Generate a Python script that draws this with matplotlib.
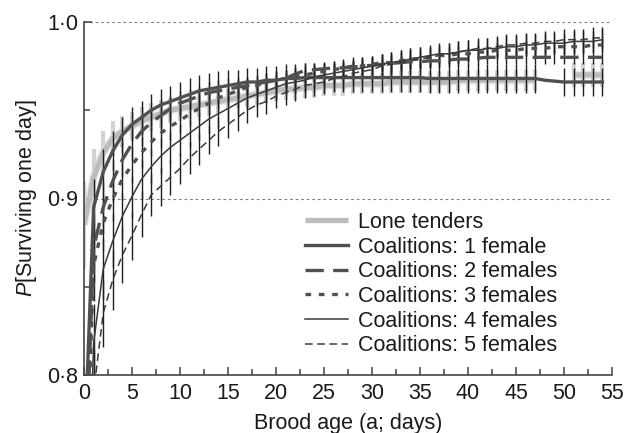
import numpy as np
import matplotlib
matplotlib.use("Agg")
import matplotlib.pyplot as plt
from matplotlib.ticker import MultipleLocator, FixedLocator, FuncFormatter

plt.rcParams['font.family'] = ['Liberation Sans', 'DejaVu Sans']
plt.rcParams['mathtext.fontset'] = 'custom'
plt.rcParams['mathtext.it'] = 'Liberation Sans:italic'
plt.rcParams['mathtext.rm'] = 'Liberation Sans'

nan = np.nan
days = list(range(0, 55))

lone = [0.885, 0.912, 0.926, 0.934, 0.938, 0.941, 0.944, 0.946, 0.948, 0.950,
        0.951, 0.952, 0.953, 0.954, 0.955, 0.956, 0.957, 0.958, 0.959, 0.960,
        0.961, 0.962, 0.962, 0.963, 0.963, 0.964, 0.964, 0.964, 0.965, 0.965,
        0.965, 0.965, 0.966, 0.966, 0.966, 0.966, 0.966, 0.966, 0.966, 0.967,
        0.967, 0.967, 0.967, 0.967, 0.967, 0.967, 0.967, 0.967, nan, nan,
        nan, 0.970, 0.970, 0.970, 0.970]
lone_err = [0.025, 0.016, 0.012, 0.010, 0.009, 0.008, 0.008, 0.008, 0.008, 0.007,
            0.007, 0.007, 0.007, 0.007, 0.007, 0.006, 0.006, 0.006, 0.006, 0.006,
            0.006, 0.006, 0.006, 0.006, 0.006, 0.006, 0.006, 0.006, 0.006, 0.006,
            0.006, 0.006, 0.006, 0.006, 0.006, 0.006, 0.006, 0.006, 0.006, 0.006,
            0.006, 0.006, 0.006, 0.006, 0.006, 0.006, 0.006, 0.006, nan, nan,
            nan, 0.007, 0.007, 0.007, 0.007]

f1 = [0.750, 0.895, 0.915, 0.927, 0.936, 0.942, 0.946, 0.950, 0.953, 0.955,
      0.957, 0.959, 0.961, 0.962, 0.963, 0.964, 0.965, 0.966, 0.966, 0.967,
      0.967, 0.968, 0.968, 0.9685, 0.9685, 0.9685, 0.9685, 0.9685, 0.9685, 0.9685,
      0.9685, 0.9685, 0.9685, 0.9685, 0.9685, 0.9685, 0.968, 0.968, 0.968, 0.968,
      0.968, 0.968, 0.968, 0.968, 0.968, 0.968, 0.968, 0.968, 0.967, 0.9665,
      0.966, 0.966, 0.966, 0.966, 0.966]
f1_err = [0.030, 0.016, 0.013, 0.011, 0.010, 0.010, 0.009, 0.009, 0.009, 0.009,
          0.009, 0.009, 0.009, 0.009, 0.009, 0.009, 0.008, 0.008, 0.008, 0.008,
          0.008, 0.008, 0.008, 0.008, 0.008, 0.008, 0.008, 0.008, 0.008, 0.008,
          0.008, 0.008, 0.008, 0.008, 0.008, 0.008, 0.008, 0.008, 0.008, 0.008,
          0.008, 0.008, 0.008, 0.008, 0.008, 0.008, 0.008, 0.008, nan, nan,
          0.008, 0.008, 0.008, 0.008, 0.008]

f2 = [0.720, 0.872, 0.895, 0.910, 0.922, 0.931, 0.938, 0.943, 0.947, 0.951,
      0.954, 0.956, 0.958, 0.960, 0.961, 0.962, 0.963, 0.964, 0.965, 0.966,
      0.967, 0.968, 0.9705, 0.9725, 0.973, 0.9735, 0.974, 0.974, 0.9745, 0.975,
      0.9755, 0.976, 0.9765, 0.977, 0.9775, 0.9775, 0.978, 0.978, 0.9785, 0.979,
      0.979, 0.9795, 0.980, 0.980, 0.980, 0.980, 0.980, 0.980, 0.980, 0.980,
      0.980, 0.980, 0.980, 0.980, 0.980]
f2_err = [0.030, 0.020, 0.015, 0.012, 0.010, 0.009, 0.008, 0.008, 0.008, 0.007,
          0.007, 0.006, 0.006, 0.006, 0.006, 0.006, 0.006, 0.005, 0.005, 0.005,
          0.005, 0.005, 0.004, 0.004, 0.004, 0.004, 0.004, 0.004, 0.004, 0.004,
          0.004, 0.004, 0.004, 0.004, 0.004, 0.004, 0.004, 0.004, 0.004, 0.004,
          0.004, 0.004, 0.004, 0.004, 0.004, 0.004, 0.004, 0.004, 0.004, 0.004,
          0.004, 0.004, 0.004, 0.004, 0.004]

f3 = [0.700, 0.862, 0.886, 0.900, 0.911, 0.919, 0.926, 0.932, 0.937, 0.941,
      0.944, 0.948, 0.951, 0.954, 0.957, 0.959, 0.961, 0.963, 0.964, 0.966,
      0.967, 0.968, 0.969, 0.970, 0.971, 0.972, 0.973, 0.974, 0.975, 0.975,
      0.976, 0.977, 0.977, 0.978, 0.979, 0.979, 0.980, 0.981, 0.981, 0.982,
      0.982, 0.983, 0.983, 0.984, 0.984, 0.984, 0.985, 0.985, 0.985, 0.986,
      0.986, 0.986, 0.986, 0.987, 0.987]
f3_err = [0.030, 0.020, 0.016, 0.013, 0.011, 0.010, 0.009, 0.008, 0.008, 0.008,
          0.007, 0.007, 0.007, 0.006, 0.006, 0.006, 0.006, 0.005, 0.005, 0.005,
          0.005, 0.005, 0.005, 0.005, 0.005, 0.005, 0.005, 0.005, 0.005, 0.005,
          0.005, 0.005, 0.005, 0.005, 0.005, 0.005, 0.005, 0.005, 0.005, 0.005,
          0.004, 0.004, 0.004, 0.004, 0.004, 0.004, 0.004, 0.004, 0.004, 0.004,
          0.004, 0.004, 0.004, 0.004, 0.004]

f4 = [0.650, 0.818, 0.860, 0.876, 0.890, 0.901, 0.911, 0.918, 0.924, 0.929,
      0.933, 0.937, 0.941, 0.945, 0.948, 0.951, 0.954, 0.957, 0.959, 0.961,
      0.963, 0.965, 0.966, 0.967, 0.969, 0.970, 0.971, 0.972, 0.973, 0.974,
      0.975, 0.976, 0.977, 0.978, 0.979, 0.980, 0.981, 0.982, 0.982, 0.983,
      0.984, 0.984, 0.985, 0.985, 0.986, 0.986, 0.987, 0.987, 0.988, 0.988,
      0.988, 0.989, 0.989, 0.989, 0.990]
f4_err = [0.030, 0.022, 0.017, 0.015, 0.013, 0.012, 0.011, 0.010, 0.010, 0.009,
          0.009, 0.008, 0.008, 0.008, 0.008, 0.007, 0.007, 0.007, 0.007, 0.007,
          0.007, 0.006, 0.006, 0.006, 0.006, 0.006, 0.006, 0.006, 0.006, 0.006,
          0.006, 0.006, 0.006, 0.006, 0.006, 0.006, 0.006, 0.006, 0.006, 0.006,
          0.006, 0.006, 0.006, 0.006, 0.006, 0.006, 0.006, 0.006, 0.006, 0.006,
          0.006, 0.006, 0.006, 0.006, 0.006]

f5 = [0.600, 0.790, 0.835, 0.854, 0.868, 0.879, 0.891, 0.902, 0.907, 0.912,
      0.917, 0.923, 0.928, 0.933, 0.938, 0.942, 0.946, 0.950, 0.953, 0.955,
      0.958, 0.960, 0.962, 0.964, 0.965, 0.966, 0.968, 0.969, 0.971, 0.972,
      0.973, 0.975, 0.976, 0.977, 0.978, 0.979, 0.980, 0.981, 0.982, 0.983,
      0.984, 0.985, 0.985, 0.986, 0.987, 0.987, 0.988, 0.988, 0.989, 0.989,
      0.990, 0.990, 0.990, 0.991, 0.991]
f5_err = [0.030, 0.024, 0.019, 0.017, 0.016, 0.014, 0.013, 0.012, 0.011, 0.010,
          0.009, 0.009, 0.009, 0.008, 0.008, 0.008, 0.008, 0.007, 0.007, 0.007,
          0.007, 0.007, 0.007, 0.007, 0.007, 0.007, 0.007, 0.007, 0.007, 0.007,
          0.007, 0.007, 0.007, 0.007, 0.007, 0.007, 0.006, 0.006, 0.006, 0.006,
          0.006, 0.006, 0.006, 0.006, 0.006, 0.006, 0.006, 0.006, 0.006, 0.006,
          0.006, 0.006, 0.006, 0.006, 0.006]

labels = ["Lone tenders", "Coalitions: 1 female", "Coalitions: 2 females",
          "Coalitions: 3 females", "Coalitions: 4 females", "Coalitions: 5 females"]

fig = plt.figure(figsize=(6.34, 4.33), dpi=100)
ax = fig.add_axes([84/634, 1 - 375/433, (612-84)/634, (375-22)/433 * 1.0025])

dark = '#505050'
bar_c = '#1e1e1e'
FS = 15.5

# Lone tenders (light gray, thick, soft)
ax.errorbar(days, lone, yerr=lone_err, fmt='none', ecolor='#d2d2d2', elinewidth=3.0, zorder=1)
ax.plot(days, lone, color='#d8d8d8', lw=6, solid_capstyle='butt', zorder=1.5, alpha=0.6)
ax.plot(days, lone, color='#bcbcbc', lw=3.8, solid_capstyle='butt', zorder=2, label=labels[0])

styles = [
    (f1, f1_err, dict(color=dark, lw=2.4, ls='-')),
    (f2, f2_err, dict(color=dark, lw=2.4, ls=(0, (5.5, 2.8)))),
    (f3, f3_err, dict(color=dark, lw=2.4, ls=(0, (1.7, 2.3)))),
    (f4, f4_err, dict(color='#3a3a3a', lw=1.1, ls='-')),
    (f5, f5_err, dict(color='#3a3a3a', lw=1.1, ls=(0, (5, 3)))),
]
for i, (vals, errs, st) in enumerate(styles):
    ax.errorbar(days, vals, yerr=errs, fmt='none', ecolor=bar_c, elinewidth=1.0, zorder=3)
    ax.plot(days, vals, zorder=4, label=labels[i + 1], **st)

ax.set_xlim(0, 55)
ax.set_ylim(0.8, 1.0005)
ax.spines['top'].set_visible(False)
ax.spines['right'].set_visible(False)
for s in ['left', 'bottom']:
    ax.spines[s].set_color('#444444')
    ax.spines[s].set_linewidth(1.2)
ax.spines['left'].set_bounds(0.8, 1.0)

ax.xaxis.set_major_locator(MultipleLocator(5))
ax.xaxis.set_minor_locator(MultipleLocator(2.5))
ax.yaxis.set_major_locator(FixedLocator([0.8, 0.9, 1.0]))
ax.yaxis.set_minor_locator(FixedLocator([0.85, 0.95]))
ax.yaxis.set_major_formatter(FuncFormatter(lambda v, p: f"{v:.1f}".replace('.', '\u00b7')))
ax.tick_params(axis='both', which='major', direction='in', length=6, width=1.1,
               color='#444444', labelsize=FS, labelcolor='#1a1a1a')
ax.tick_params(axis='both', which='minor', direction='in', length=4, width=1.1, color='#444444')
ax.tick_params(axis='x', which='major', pad=6)
ax.tick_params(axis='y', which='major', pad=4)

ax.yaxis.grid(True, which='major', linestyle=(0, (2.5, 2.5)), color='#808080', linewidth=0.8)
ax.set_axisbelow(True)

ax.set_xlabel("Brood age (a; days)", fontsize=FS, color='#1a1a1a', labelpad=6)
ax.set_ylabel("$P$[Surviving one day]", fontsize=FS, color='#1a1a1a', labelpad=6)

leg = ax.legend(loc='upper left', bbox_to_anchor=(305/634, 1 - 212/433),
                bbox_transform=fig.transFigure, frameon=False, fontsize=FS,
                handlelength=2.0, handletextpad=0.45, labelspacing=0.17,
                borderpad=0, borderaxespad=0)
for t in leg.get_texts():
    t.set_color('#1a1a1a')

fig.savefig("out.png", dpi=100)
